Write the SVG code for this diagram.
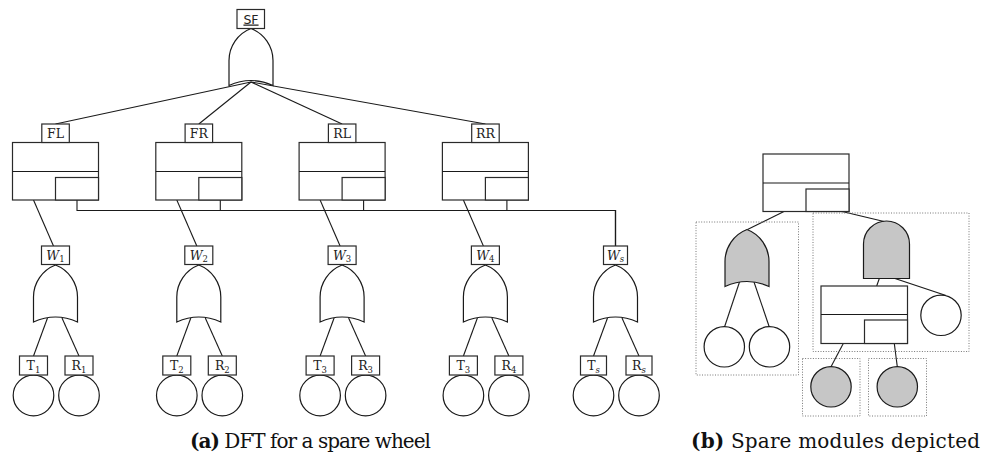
<svg xmlns="http://www.w3.org/2000/svg" width="982" height="456" viewBox="0 0 982 456">
  <style>
    .ln { fill: none; stroke: #1a1a1a; stroke-width: 1.1; }
    .box { fill: #fff; stroke: #2a2a2a; stroke-width: 1.2; }
    .gate { fill: #fff; stroke: #1a1a1a; stroke-width: 1.2; }
    .grey { fill: #c6c6c6; stroke: #1a1a1a; stroke-width: 1.2; }
    .ev { fill: #fff; stroke: #1a1a1a; stroke-width: 1.2; }
    .mod { fill: none; stroke: #777; stroke-width: 1; stroke-dasharray: 1 1.6; }
    .lbl { font-family: "DejaVu Serif", "Liberation Serif", serif; font-size: 12.5px; fill: #222; text-anchor: middle; }
    .sub { font-size: 8.5px; }
    .it { font-style: italic; }
    .sf { font-family: "DejaVu Sans", "Liberation Sans", sans-serif; font-size: 12.5px; fill: #222; text-anchor: middle; text-decoration: underline; }
    .cap { font-family: "DejaVu Serif", "Liberation Serif", serif; font-size: 20px; fill: #111; }
    .b { font-weight: bold; }
  </style>
  <defs>
    <!-- OR gate, apex at (0,0) -->
    <path id="or" d="M-22,57 L-22,32 A34.3,34.3 0 0 1 0,0 A34.3,34.3 0 0 1 22,32 L22,57 Q0,47 -22,57 Z"/>
    <!-- spare gate body -->
    <g id="spare">
      <rect class="box" x="0" y="0" width="86" height="57.5"/>
      <line class="ln" x1="0" y1="29" x2="86" y2="29"/>
      <rect class="box" x="43" y="35" width="43" height="22.5"/>
    </g>
  </defs>

  <!-- connectors -->
  <g id="connectors">
    <!-- top OR to wheel spare gates -->
    <line class="ln" x1="251" y1="82" x2="55.5" y2="124"/>
    <line class="ln" x1="251" y1="82" x2="198.8" y2="124"/>
    <line class="ln" x1="251" y1="82" x2="342.1" y2="124"/>
    <line class="ln" x1="251" y1="82" x2="485.4" y2="124"/>
    <!-- spare gates to primary wheels -->
    <line class="ln" x1="33.5" y1="200" x2="53.5" y2="246"/>
    <line class="ln" x1="176.8" y1="200" x2="196.8" y2="246"/>
    <line class="ln" x1="320.1" y1="200" x2="340.1" y2="246"/>
    <line class="ln" x1="463.4" y1="200" x2="483.4" y2="246"/>
    <!-- spare gates to the shared spare wheel -->
    <path class="ln" d="M77,200 V210.5 H615.5 V246"/>
    <path class="ln" d="M220.3,200 V210.5 H615.5 V246"/>
    <path class="ln" d="M363.6,200 V210.5 H615.5 V246"/>
    <path class="ln" d="M506.9,200 V210.5 H615.5 V246"/>
    <!-- wheel OR gates to basic events -->
    <line class="ln" x1="47.5" y1="318" x2="33.5" y2="356"/>
    <line class="ln" x1="62" y1="318" x2="79" y2="356"/>
    <line class="ln" x1="190.8" y1="318" x2="176.8" y2="356"/>
    <line class="ln" x1="205.3" y1="318" x2="222.3" y2="356"/>
    <line class="ln" x1="334.1" y1="318" x2="320.1" y2="356"/>
    <line class="ln" x1="348.6" y1="318" x2="365.6" y2="356"/>
    <line class="ln" x1="477.4" y1="318" x2="463.4" y2="356"/>
    <line class="ln" x1="491.9" y1="318" x2="508.9" y2="356"/>
    <line class="ln" x1="607.5" y1="318" x2="593.5" y2="356"/>
    <line class="ln" x1="622" y1="318" x2="639" y2="356"/>
    <!-- panel b -->
    <line class="ln" x1="785" y1="211" x2="747.5" y2="229.5"/>
    <line class="ln" x1="840" y1="211" x2="884" y2="221.5"/>
    <line class="ln" x1="739.5" y1="282" x2="724.5" y2="327"/>
    <line class="ln" x1="754" y1="282" x2="769.3" y2="327"/>
    <line class="ln" x1="879.3" y1="278.5" x2="876.7" y2="286"/>
    <line class="ln" x1="895" y1="278.5" x2="946" y2="295.5"/>
    <line class="ln" x1="843.3" y1="343.5" x2="831" y2="366.7"/>
    <line class="ln" x1="894.3" y1="343.5" x2="897.3" y2="366.7"/>
  </g>

  <!-- system failure -->
  <g id="SF">
    <use href="#or" class="gate" x="251" y="28.5"/>
    <rect class="box" x="237" y="9.5" width="27.5" height="19"/>
    <text class="sf" x="251" y="23.5">SF</text>
  </g>

  <!-- wheel spare gates -->
  <g id="FL">
    <use href="#spare" x="12.5" y="142.5"/>
    <rect class="box" x="41.8" y="124" width="27.5" height="18.5"/>
    <text class="lbl" x="55.5" y="138">FL</text>
  </g>
  <g id="FR">
    <use href="#spare" x="155.8" y="142.5"/>
    <rect class="box" x="185.1" y="124" width="27.5" height="18.5"/>
    <text class="lbl" x="198.8" y="138">FR</text>
  </g>
  <g id="RL">
    <use href="#spare" x="299.1" y="142.5"/>
    <rect class="box" x="328.4" y="124" width="27.5" height="18.5"/>
    <text class="lbl" x="342.1" y="138">RL</text>
  </g>
  <g id="RR">
    <use href="#spare" x="442.4" y="142.5"/>
    <rect class="box" x="471.7" y="124" width="27.5" height="18.5"/>
    <text class="lbl" x="485.4" y="138">RR</text>
  </g>

  <!-- wheel OR gates -->
  <g id="W1">
    <use href="#or" class="gate" x="55.5" y="265"/>
    <rect class="box" x="41.5" y="246" width="28" height="18.5"/>
    <text class="lbl" x="55.5" y="259.5"><tspan class="it">W</tspan><tspan class="sub" dy="2.5">1</tspan></text>
  </g>
  <g id="W2">
    <use href="#or" class="gate" x="198.8" y="265"/>
    <rect class="box" x="184.8" y="246" width="28" height="18.5"/>
    <text class="lbl" x="198.8" y="259.5"><tspan class="it">W</tspan><tspan class="sub" dy="2.5">2</tspan></text>
  </g>
  <g id="W3">
    <use href="#or" class="gate" x="342.1" y="265"/>
    <rect class="box" x="328.1" y="246" width="28" height="18.5"/>
    <text class="lbl" x="342.1" y="259.5"><tspan class="it">W</tspan><tspan class="sub" dy="2.5">3</tspan></text>
  </g>
  <g id="W4">
    <use href="#or" class="gate" x="485.4" y="265"/>
    <rect class="box" x="471.4" y="246" width="28" height="18.5"/>
    <text class="lbl" x="485.4" y="259.5"><tspan class="it">W</tspan><tspan class="sub" dy="2.5">4</tspan></text>
  </g>
  <g id="Ws">
    <use href="#or" class="gate" x="615.5" y="265"/>
    <rect class="box" x="603.5" y="246" width="24" height="18.5"/>
    <text class="lbl" x="615.5" y="259.5"><tspan class="it">W</tspan><tspan class="sub it" dy="2.5">s</tspan></text>
  </g>

  <!-- basic events: tyres and rims -->
  <g id="T1">
    <circle class="ev" cx="33.5" cy="395.5" r="20.3"/>
    <rect class="box" x="19.5" y="356" width="28" height="19"/>
    <text class="lbl" x="33.5" y="370"><tspan>T</tspan><tspan class="sub" dy="2.5">1</tspan></text>
  </g>
  <g id="R1">
    <circle class="ev" cx="79" cy="395.5" r="20.3"/>
    <rect class="box" x="65" y="356" width="28" height="19"/>
    <text class="lbl" x="79" y="370"><tspan>R</tspan><tspan class="sub" dy="2.5">1</tspan></text>
  </g>
  <g id="T2">
    <circle class="ev" cx="176.8" cy="395.5" r="20.3"/>
    <rect class="box" x="162.8" y="356" width="28" height="19"/>
    <text class="lbl" x="176.8" y="370"><tspan>T</tspan><tspan class="sub" dy="2.5">2</tspan></text>
  </g>
  <g id="R2">
    <circle class="ev" cx="222.3" cy="395.5" r="20.3"/>
    <rect class="box" x="208.3" y="356" width="28" height="19"/>
    <text class="lbl" x="222.3" y="370"><tspan>R</tspan><tspan class="sub" dy="2.5">2</tspan></text>
  </g>
  <g id="T3">
    <circle class="ev" cx="320.1" cy="395.5" r="20.3"/>
    <rect class="box" x="306.1" y="356" width="28" height="19"/>
    <text class="lbl" x="320.1" y="370"><tspan>T</tspan><tspan class="sub" dy="2.5">3</tspan></text>
  </g>
  <g id="R3">
    <circle class="ev" cx="365.6" cy="395.5" r="20.3"/>
    <rect class="box" x="351.6" y="356" width="28" height="19"/>
    <text class="lbl" x="365.6" y="370"><tspan>R</tspan><tspan class="sub" dy="2.5">3</tspan></text>
  </g>
  <g id="T4">
    <circle class="ev" cx="463.4" cy="395.5" r="20.3"/>
    <rect class="box" x="449.4" y="356" width="28" height="19"/>
    <text class="lbl" x="463.4" y="370"><tspan>T</tspan><tspan class="sub" dy="2.5">3</tspan></text>
  </g>
  <g id="R4">
    <circle class="ev" cx="508.9" cy="395.5" r="20.3"/>
    <rect class="box" x="494.9" y="356" width="28" height="19"/>
    <text class="lbl" x="508.9" y="370"><tspan>R</tspan><tspan class="sub" dy="2.5">4</tspan></text>
  </g>
  <g id="Ts">
    <circle class="ev" cx="593.5" cy="395.5" r="20.3"/>
    <rect class="box" x="580.5" y="356" width="26" height="19"/>
    <text class="lbl" x="593.5" y="370"><tspan>T</tspan><tspan class="sub it" dy="2.5">s</tspan></text>
  </g>
  <g id="Rs">
    <circle class="ev" cx="639" cy="395.5" r="20.3"/>
    <rect class="box" x="626" y="356" width="26" height="19"/>
    <text class="lbl" x="639" y="370"><tspan>R</tspan><tspan class="sub it" dy="2.5">s</tspan></text>
  </g>

  <!-- panel b: spare modules -->
  <g id="b-spare">
    <use href="#spare" x="763" y="154"/>
  </g>
  <g id="b-module-or">
    <rect class="mod" x="696" y="222" width="102.5" height="153"/>
    <use href="#or" class="grey" x="747" y="229.5"/>
    <circle class="ev" cx="724.3" cy="346.8" r="20.2"/>
    <circle class="ev" cx="769.5" cy="346.8" r="20.2"/>
  </g>
  <g id="b-module-and">
    <rect class="mod" x="813" y="213" width="156" height="138.5"/>
    <path class="grey" d="M863.5,278.5 V244 A23,23 0 0 1 909.5,244 V278.5 Z"/>
    <g transform="translate(821,286)">
      <rect class="box" x="0" y="0" width="86.5" height="57.5"/>
      <line class="ln" x1="0" y1="28.5" x2="86.5" y2="28.5"/>
      <rect class="box" x="43.5" y="34" width="43" height="23.5"/>
    </g>
    <circle class="ev" cx="941" cy="315.3" r="20.2"/>
  </g>
  <g id="b-module-1">
    <rect class="mod" x="802.5" y="358.5" width="57.5" height="57.5"/>
    <circle class="grey" cx="831" cy="386.8" r="20.2"/>
  </g>
  <g id="b-module-2">
    <rect class="mod" x="868.5" y="358.5" width="58" height="57.5"/>
    <circle class="grey" cx="897.3" cy="386.8" r="20.2"/>
  </g>

  <!-- captions -->
  <text class="cap" x="190" y="448" textLength="241"><tspan class="b">(a)</tspan> DFT for a spare wheel</text>
  <text class="cap" x="691" y="448" textLength="289"><tspan class="b">(b)</tspan> Spare modules depicted</text>
</svg>
